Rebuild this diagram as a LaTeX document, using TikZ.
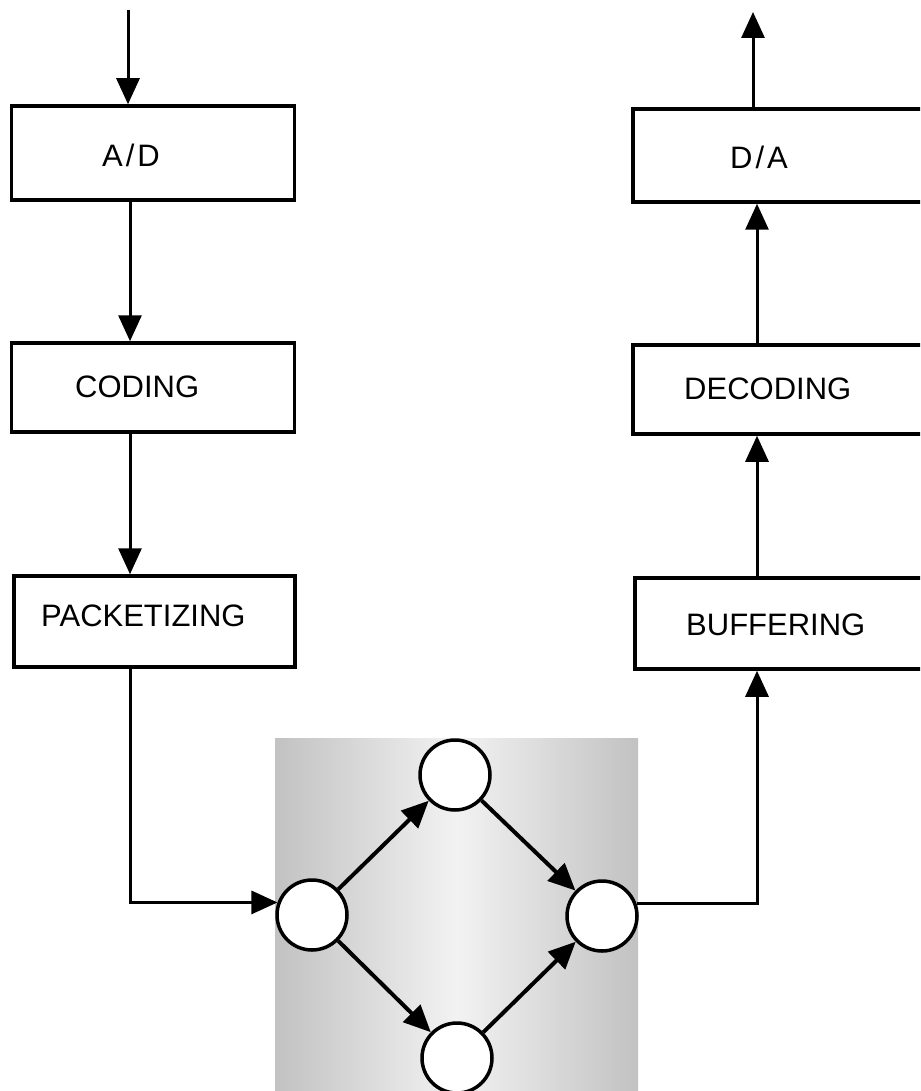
\documentclass[tikz,border=0pt]{standalone}
\usepackage{fontspec}
\setmainfont{Liberation Sans}
\usetikzlibrary{arrows.meta}
\begin{document}
\begin{tikzpicture}[x=1pt,y=-1pt,
  stage/.style={draw, line width=3.5pt, minimum width=283pt, inner sep=0pt},
  lbl/.style={font=\fontsize{31}{37}\selectfont, inner sep=0pt, anchor=west},
  hop/.style={draw, circle, line width=3.5pt, fill=white, minimum size=70pt, inner sep=0pt},
  flow/.style={line width=3pt, -{Triangle[length=26pt,width=23pt]}},
  link/.style={line width=4pt, -{Triangle[length=27pt,width=24pt]}},
  ]
  \useasboundingbox (0,0) rectangle (920,1091);
  \clip (0,0) rectangle (920,1091);

  % transmitting side
  \node[stage, minimum height=94pt] (ad) at (153,153) {};
  \node[stage, minimum height=89pt] (coding) at (153,387.5) {};
  \node[stage, minimum height=91pt, minimum width=281pt] (pk) at (154.5,621.5) {};
  \node[lbl] (adt) at (102,155) {A\kern3pt/\kern3pt D};
  \node[lbl] (codingt) at (75,387) {CODING};
  \node[lbl] (pkt) at (41,616) {PACKETIZING};

  % receiving side
  \node[stage, minimum height=93pt, minimum width=300pt] (da) at (783,155.5) {};
  \node[stage, minimum height=89pt, minimum width=300pt] (dec) at (783,389.5) {};
  \node[stage, minimum height=91pt, minimum width=300pt] (buf) at (785,623.5) {};
  \node[lbl] (dat) at (730,157) {D\kern3pt/\kern3pt A};
  \node[lbl] (dect) at (684,389) {DECODING};
  \node[lbl] (buft) at (686,625) {BUFFERING};

  % network area: grey, lighter towards the middle
  \shade[left color=black!24, right color=black!5] (275,738) rectangle (457,1091);
  \shade[left color=black!5, right color=black!24] (457,738) rectangle (638,1091);
  \node[hop] (n1) at (312,915) {};
  \node[hop] (n2) at (455,775) {};
  \node[hop] (n3) at (602,916) {};
  \node[hop] (n4) at (457,1058) {};
  \draw[link] (n1) -- (n2);
  \draw[link] (n2) -- (n3);
  \draw[link] (n1) -- (n4);
  \draw[link] (n4) -- (n3);

  % signal path
  \coordinate (in) at (128,10);
  \coordinate (out) at (753,12);
  \coordinate (colL) at (130,0);
  \coordinate (colR) at (757,0);
  \draw[flow] (in) -- (in |- ad.north);
  \draw[flow] (ad.south -| colL) -- (coding.north -| colL);
  \draw[flow] (coding.south -| colL) -- (pk.north -| colL);
  \draw[flow] (pk.south -| colL) |- (n1.160);
  \draw[flow] (n3.20) -| (buf.south -| colR);
  \draw[flow] (buf.north -| colR) -- (dec.south -| colR);
  \draw[flow] (dec.north -| colR) -- (da.south -| colR);
  \draw[flow] (da.north -| out) -- (out);
\end{tikzpicture}
\end{document}
